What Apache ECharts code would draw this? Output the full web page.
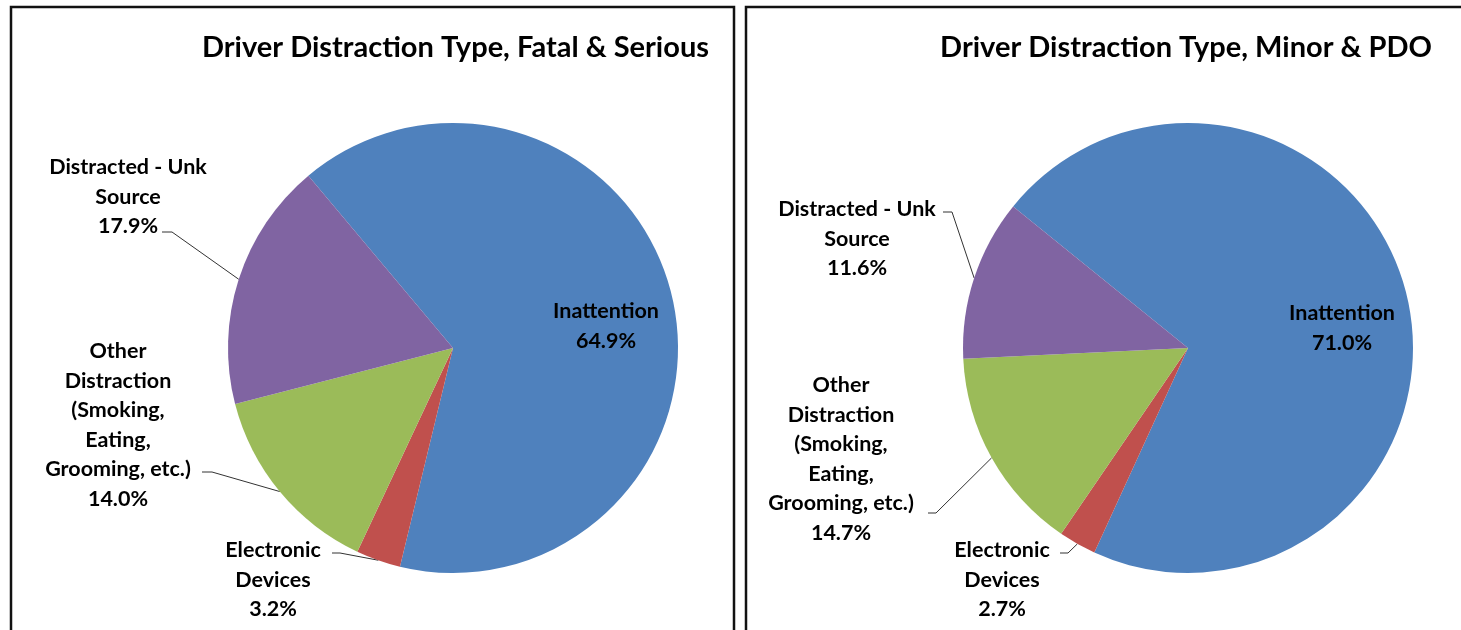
<!DOCTYPE html>
<html>
<head>
<meta charset="utf-8">
<script src="https://cdn.jsdelivr.net/npm/echarts@6/dist/echarts.min.js"></script>
<style>
  html, body { margin: 0; padding: 0; background: #fff; }
  #chart { width: 1461px; height: 630px; }
</style>
</head>
<body>
<div id="chart"></div>
<script>
// data
const categories = [
    'Inattention',
    'Electronic\nDevices',
    'Other\nDistraction\n(Smoking,\nEating,\nGrooming, etc.)',
    'Distracted - Unk\nSource'
];
const fatalSerious = [64.9, 3.2, 14.0, 17.9];
const minorPdo = [71.0, 2.7, 14.7, 11.6];
const chartTitles = ['Driver Distraction Type, Fatal & Serious', 'Driver Distraction Type, Minor & PDO'];

const colors = ['#4F81BD', '#C0504D', '#9BBB59', '#8064A2'];
const font = 'Lato, "Open Sans", sans-serif';
const R = 225;

// label block centers and leader-line start points (text end), per pie
let labelSpots = [
    [[606, 326], [273, 580], [118, 425], [128, 197]],
    [[1342, 328], [1002, 580], [841, 459], [857, 239]]
];
let leaderStarts = [
    [null, [[332, 553], [340, 553]], [[202, 472], [212, 472]], [[162, 232], [172, 232]]],
    [null, [[1060, 553], [1068, 553]], [[928, 513], [936, 513]], [[943, 212], [952, 212]]]
];

// mid angle of every slice, clockwise from 12 o'clock, in degrees
let midAngles = (values, startAngle) => {
    let total = values.reduce((a, b) => a + b, 0);
    let acc = 90 - startAngle;
    return values.map(v => {
        let span = v / total * 360;
        let mid = acc + span / 2;
        acc += span;
        return mid;
    });
};

let makePie = (values, idx, center, startAngle) => {
    let mids = midAngles(values, startAngle);
    return {
        type: 'pie',
        center: center,
        radius: R,
        startAngle: startAngle,
        clockwise: true,
        avoidLabelOverlap: false,
        silent: true,
        itemStyle: { borderWidth: 0 },
        label: {
            show: true,
            position: 'outside',
            color: '#000',
            fontFamily: font,
            fontWeight: 'bold',
            fontSize: 21.5,
            lineHeight: 29.5,
            align: 'center',
            formatter: p => p.name + '\n' + p.value.toFixed(1) + '%'
        },
        labelLine: {
            show: true,
            lineStyle: { color: '#333', width: 1 }
        },
        labelLayout: p => {
            let i = p.dataIndex;
            let s = labelSpots[idx][i];
            let out = { x: s[0], y: s[1], align: 'center', verticalAlign: 'middle' };
            let st = leaderStarts[idx][i];
            if (st) {
                let a = mids[i] * Math.PI / 180;
                let edge = [center[0] + R * Math.sin(a), center[1] - R * Math.cos(a)];
                out.labelLinePoints = [edge, st[1], st[0]];
            }
            return out;
        },
        data: categories.map((name, i) => ({
            name: name,
            value: values[i],
            itemStyle: { color: colors[i] },
            labelLine: { show: i !== 0 }
        }))
    };
};

let titleStyle = { fontFamily: font, fontWeight: 'bold', fontSize: 29, color: '#000' };

let option = {
    backgroundColor: '#fff',
    animation: false,
    title: [
        { text: chartTitles[0], right: 747, top: 28, textStyle: titleStyle },
        { text: chartTitles[1], right: 24, top: 28, textStyle: titleStyle }
    ],
    graphic: [
        {
            type: 'rect',
            shape: { x: 11, y: 7, width: 723, height: 660 },
            style: { fill: 'none', stroke: '#111', lineWidth: 2.5 }
        },
        {
            type: 'rect',
            shape: { x: 746, y: 7, width: 760, height: 660 },
            style: { fill: 'none', stroke: '#111', lineWidth: 2.5 }
        }
    ],
    series: [
        makePie(fatalSerious, 0, [453, 348], 130),
        makePie(minorPdo, 1, [1188, 348], 141)
    ]
};

let myChart = echarts.init(document.getElementById('chart'));
myChart.setOption(option);
</script>
</body>
</html>
